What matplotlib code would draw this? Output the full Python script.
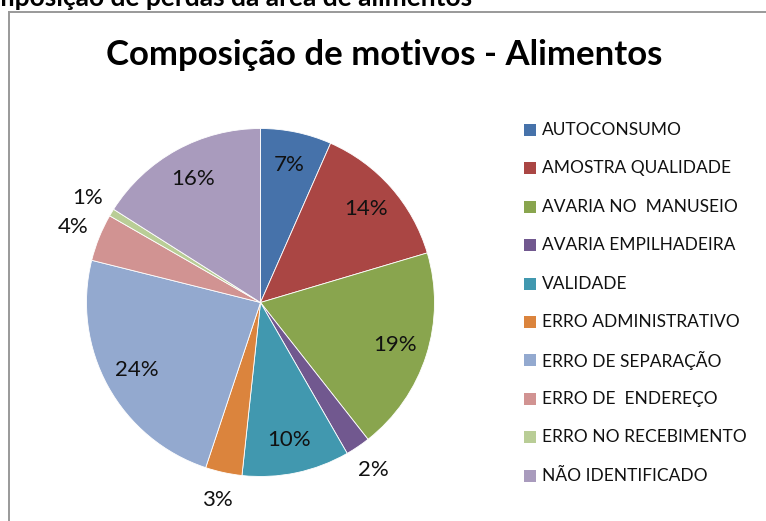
import matplotlib
matplotlib.use("Agg")
import matplotlib.pyplot as plt
import numpy as np
from matplotlib.patches import Rectangle
from matplotlib.lines import Line2D

plt.rcParams['font.family'] = ['Lato', 'DejaVu Sans']

categories = ["AUTOCONSUMO", "AMOSTRA QUALIDADE", "AVARIA NO  MANUSEIO", "AVARIA EMPILHADEIRA",
              "VALIDADE", "ERRO ADMINISTRATIVO", "ERRO DE SEPARAÇÃO", "ERRO DE  ENDEREÇO",
              "ERRO NO RECEBIMENTO", "NÃO IDENTIFICADO"]
values = [6.6, 13.8, 19.0, 2.3, 10.0, 3.4, 23.8, 4.4, 0.7, 16.0]
colors = ["#4672AA", "#AA4644", "#89A54E", "#71588F", "#4198AF",
          "#DB843D", "#93A9CF", "#D19392", "#B9CD96", "#A99BBD"]
title = "Composição de motivos - Alimentos"
top_caption = "Composição de perdas da área de alimentos"

W, H = 766, 521
fig = plt.figure(figsize=(W/100, H/100), dpi=100)

# frame of chart area
fig.add_artist(Line2D([8.5/W, 1.0], [1-11.5/H, 1-11.5/H], color="#999999", lw=1.4))
fig.add_artist(Line2D([8.5/W, 8.5/W], [0, 1-11.5/H], color="#999999", lw=1.4))

# cut-off caption at the very top
fig.text(472/W, 1 - 6/H, top_caption, ha="right", va="baseline", fontsize=19,
         fontweight="bold")

# pie axes
cx, cy, R = 260.5, 302.5, 174.0
L = 1.3
ax = fig.add_axes([(cx - L*R)/W, (H - cy - L*R)/H, 2*L*R/W, 2*L*R/H])
wedges, _ = ax.pie(values, colors=colors, startangle=90, counterclock=False,
                   wedgeprops=dict(linewidth=0.6, edgecolor="white"))
ax.set_xlim(-L, L)
ax.set_ylim(-L, L)
ax.set_aspect("equal")
ax.axis("off")

total = sum(values)
for w, v in zip(wedges, values):
    pct = 100 * v / total
    ang = np.deg2rad((w.theta1 + w.theta2) / 2)
    r = 0.81 if pct >= 6 else 1.16
    ax.text(r*np.cos(ang), r*np.sin(ang), f"{pct:.0f}%", ha="center", va="center",
            fontsize=16, color="#111111")

fig.text(384/W, 1 - 55/H, title, ha="center", va="center", fontsize=25,
         fontweight="bold")

# legend
y0, dy = 130, 38.4
for i, (c, lab) in enumerate(zip(colors, categories)):
    y = y0 + i*dy
    fig.add_artist(Rectangle((524/W, 1 - (y + 6)/H), 12/W, 12/H, facecolor=c,
                             edgecolor="none"))
    fig.text(542/W, 1 - y/H, lab, ha="left", va="center", fontsize=12.5, color="#111111")

fig.savefig("out.png", dpi=100)
